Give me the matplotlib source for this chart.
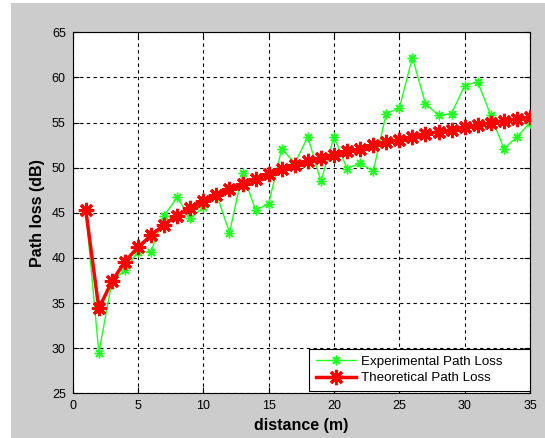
import matplotlib
matplotlib.use('Agg')
import matplotlib.pyplot as plt
from matplotlib.patches import Rectangle

plt.rcParams['font.family'] = ['Liberation Sans', 'DejaVu Sans']

# distancias (m)
distancia = list(range(1, 36))

# perdida medida
experimental = [45.3, 29.5, 37.3, 38.7, 40.7, 40.7, 44.7, 46.7, 44.4, 45.6,
                47.1, 42.8, 49.4, 45.3, 46.0, 52.1, 50.5, 53.4, 48.5, 53.4,
                49.9, 50.5, 49.6, 56.0, 56.6, 62.2, 57.1, 55.8, 56.0, 59.1,
                59.5, 55.8, 52.1, 53.4, 55.0]

# perdida teorica
teorica = [45.3, 34.4, 37.4, 39.6, 41.2, 42.5, 43.7, 44.7, 45.5, 46.3,
           47.0, 47.6, 48.2, 48.8, 49.3, 49.8, 50.3, 50.7, 51.1, 51.4,
           51.8, 52.1, 52.5, 52.8, 53.1, 53.4, 53.7, 54.0, 54.2, 54.5,
           54.7, 55.0, 55.2, 55.4, 55.6]

fig = plt.figure(figsize=(5.45, 4.38), dpi=100)
fig.patch.set_facecolor('white')
# fondo gris estilo matlab
fig.patches.append(Rectangle((11/545, 0), 1 - 11/545, 1 - 3/438,
                             transform=fig.transFigure, facecolor='#cccccc',
                             edgecolor='none', zorder=-10))

ax = fig.add_axes([72.7/545, 44.7/438, (530 - 72.7)/545, (393.3 - 32.3)/438])
ax.set_facecolor('white')

asterisco = (8, 2, 0)
ax.plot(distancia, experimental, color='#22ff22', lw=1.0, marker=asterisco,
        markersize=7, markeredgewidth=1.0, label='Experimental Path Loss', zorder=3)
ax.plot(distancia, teorica, color='#ff0000', lw=2.5, marker=asterisco,
        markersize=11, markeredgewidth=2.2, label='Theoretical Path Loss', zorder=4)

ax.set_xlim(0, 35)
ax.set_ylim(25, 65)
ax.set_xticks(range(0, 36, 5))
ax.set_yticks(range(25, 66, 5))
ax.grid(True, color='black', linestyle=(0, (3, 3)), linewidth=0.8)
ax.tick_params(direction='in', top=True, right=True, labelsize=9, length=4, pad=5)
for s in ax.spines.values():
    s.set_linewidth(0.8)

ax.set_xlabel('distance (m)', fontsize=11.5, fontweight='bold', labelpad=4)
ax.set_ylabel('Path loss (dB)', fontsize=11.5, fontweight='bold', labelpad=5)

leg = ax.legend(loc='lower left', bbox_to_anchor=(0.517, 0.006, 0.483, 0.122),
                mode='expand', borderaxespad=0, fontsize=9.6, handlelength=3,
                fancybox=False, edgecolor='black', framealpha=1, labelspacing=0.3,
                handletextpad=0.4, borderpad=0.5)
leg.get_frame().set_linewidth(0.8)

plt.savefig('out.png', dpi=100)
